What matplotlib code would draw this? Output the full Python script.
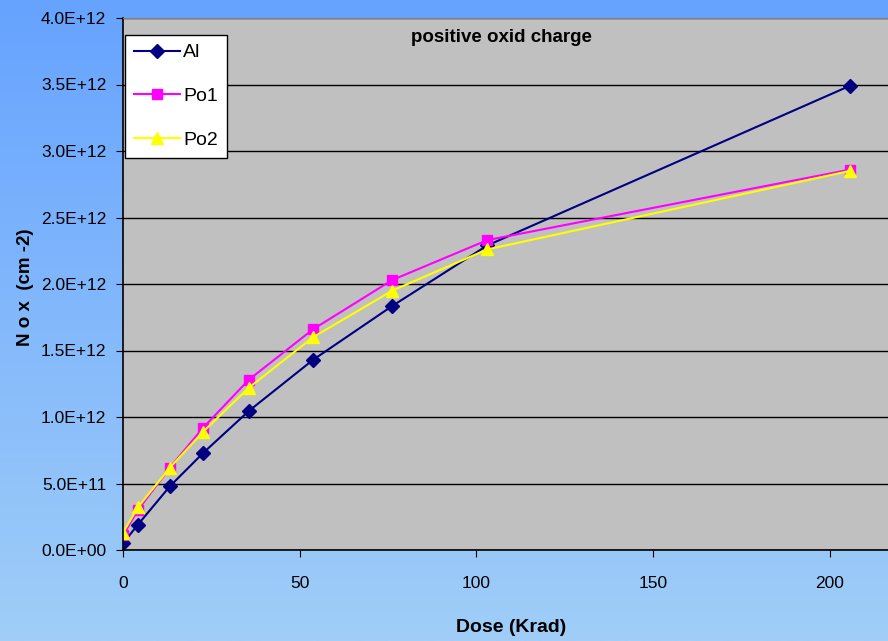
import numpy as np
import matplotlib
matplotlib.use('Agg')
import matplotlib.pyplot as plt
from matplotlib.ticker import FuncFormatter

plt.rcParams['font.family'] = ['Liberation Sans', 'DejaVu Sans']

# Dose values (Krad)
dose = [0, 4.2, 13.3, 22.7, 35.6, 53.8, 76.2, 103.1, 205.7]

# Oxide charge Nox (cm-2)
al = [0.05e12, 0.19e12, 0.48e12, 0.73e12, 1.045e12, 1.43e12, 1.835e12, 2.29e12, 3.49e12]
po1 = [0.11e12, 0.30e12, 0.62e12, 0.92e12, 1.28e12, 1.66e12, 2.03e12, 2.33e12, 2.86e12]
po2 = [0.13e12, 0.32e12, 0.62e12, 0.89e12, 1.22e12, 1.60e12, 1.95e12, 2.26e12, 2.85e12]

y_ticks = np.arange(0, 4.01e12, 0.5e12)
x_ticks = [0, 50, 100, 150, 200]


def sci_label(v, pos):
    if v <= 0:
        return '0.0E+00'
    e = int(np.floor(np.log10(v)))
    return '%.1fE+%02d' % (v / 10 ** e, e)


fig = plt.figure(figsize=(8.88, 6.41), dpi=100)

# gradient background
bg = fig.add_axes([0, 0, 1, 1], zorder=0)
top = np.array([102, 163, 255]) / 255
bottom = np.array([160, 206, 248]) / 255
t = np.linspace(0, 1, 256)[:, None]
grad = top * (1 - t) + bottom * t
bg.imshow(grad[:, None, :], aspect='auto', extent=[0, 1, 0, 1])
bg.axis('off')

ax = fig.add_axes([123 / 888, 91 / 641, 1 - 123 / 888, 532 / 641], zorder=1)
ax.set_facecolor('#C0C0C0')

ax.plot(dose, al, color='#000080', lw=1.5, marker='D', ms=7, label='Al')
ax.plot(dose, po1, color='#FF00FF', lw=1.5, marker='s', ms=7, label='Po1')
ax.plot(dose, po2, color='#FFFF00', lw=1.5, marker='^', ms=9, label='Po2')

ax.set_xlim(0, 216.5)
ax.set_ylim(0, 4.0e12)
ax.set_yticks(y_ticks)
ax.set_xticks(x_ticks)
ax.yaxis.set_major_formatter(FuncFormatter(sci_label))
ax.tick_params(axis='both', labelsize=12.5, direction='out', length=5, color='black')
ax.tick_params(axis='x', pad=14)
ax.tick_params(axis='y', pad=7)
ax.grid(axis='y', color='black', lw=1)
ax.set_axisbelow(True)

ax.spines['right'].set_visible(False)
ax.spines['top'].set_color('#808080')
ax.spines['left'].set_linewidth(1.2)
ax.spines['bottom'].set_linewidth(1.2)

fig.text(501 / 888, 1 - 38 / 641, 'positive oxid charge', ha='center', va='center',
         fontsize=13.5, fontweight='bold')

fig.text(511 / 888, 1 - 627 / 641, 'Dose (Krad)', ha='center', va='center',
         fontsize=14, fontweight='bold')
fig.text(25 / 888, 1 - 287 / 641, 'N o x  (cm -2)', ha='center', va='center',
         rotation=90, fontsize=13.5, fontweight='bold')

leg = ax.legend(loc='upper left', bbox_to_anchor=(125 / 888, 1 - 35 / 641),
                bbox_transform=fig.transFigure, fontsize=14, frameon=True,
                fancybox=False, edgecolor='black', framealpha=1,
                labelspacing=1.35, handlelength=2.4, borderpad=0.45,
                handletextpad=0.15, borderaxespad=0)
leg.get_frame().set_linewidth(1.0)

fig.savefig('out.png', dpi=100)
